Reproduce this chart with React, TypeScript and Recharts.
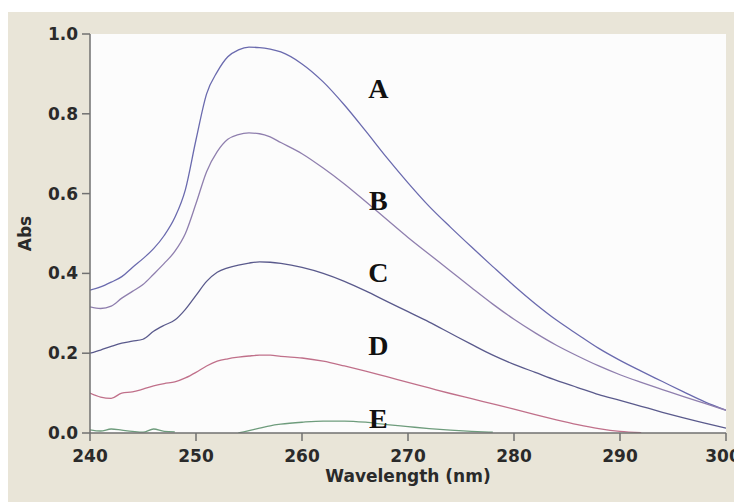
import React from 'react';
import { LineChart, Line, XAxis, YAxis, CartesianGrid, ReferenceDot } from 'recharts';

const wavelengths = [240, 241, 242, 243, 244, 245, 246, 247, 248, 249, 250, 251, 252, 253, 254, 255, 256, 257, 258,
  260, 262, 264, 266, 268, 270, 272, 274, 276, 278, 280, 282, 284, 286, 288, 290, 292, 294, 296, 298, 300];

const seriesA = [0.358, 0.366, 0.378, 0.392, 0.415, 0.437, 0.462, 0.495, 0.540, 0.610, 0.735, 0.850, 0.905, 0.943, 0.960, 0.967, 0.966, 0.962, 0.955,
  0.925, 0.880, 0.822, 0.757, 0.690, 0.627, 0.568, 0.516, 0.466, 0.417, 0.369, 0.324, 0.283, 0.247, 0.212, 0.182, 0.155, 0.129, 0.103, 0.078, 0.057];

const seriesB = [0.316, 0.312, 0.318, 0.338, 0.355, 0.372, 0.398, 0.425, 0.455, 0.500, 0.575, 0.655, 0.705, 0.736, 0.748, 0.752, 0.750, 0.742, 0.728,
  0.700, 0.664, 0.624, 0.580, 0.535, 0.490, 0.448, 0.406, 0.364, 0.323, 0.285, 0.251, 0.220, 0.193, 0.168, 0.146, 0.127, 0.109, 0.091, 0.074, 0.057];

const seriesC = [0.200, 0.208, 0.217, 0.225, 0.230, 0.235, 0.255, 0.270, 0.283, 0.310, 0.345, 0.380, 0.403, 0.414, 0.421, 0.426, 0.429, 0.428, 0.425,
  0.415, 0.400, 0.380, 0.356, 0.330, 0.304, 0.278, 0.250, 0.222, 0.195, 0.172, 0.152, 0.132, 0.114, 0.096, 0.082, 0.067, 0.052, 0.038, 0.025, 0.012];

const seriesD = [0.100, 0.090, 0.087, 0.100, 0.103, 0.110, 0.118, 0.124, 0.128, 0.138, 0.152, 0.168, 0.180, 0.186, 0.190, 0.193, 0.195, 0.195, 0.192,
  0.188, 0.180, 0.168, 0.155, 0.141, 0.127, 0.113, 0.099, 0.086, 0.073, 0.060, 0.046, 0.033, 0.021, 0.011, 0.004, 0.001, null, null, null, null];

const seriesE = [0.008, 0.005, 0.010, 0.007, 0.004, 0.002, 0.010, 0.004, 0.003, null, null, null, null, null, 0.000, 0.006, 0.012, 0.018, 0.022,
  0.027, 0.030, 0.030, 0.027, 0.021, 0.016, 0.011, 0.007, 0.004, 0.002, null, null, null, null, null, null, null, null, null, null, null];

const xTicks = [240, 250, 260, 270, 280, 290, 300];
const yTicks = [0, 0.2, 0.4, 0.6, 0.8, 1.0];

const curveLabels = [
  { name: 'A', x: 267.2, y: 0.865 },
  { name: 'B', x: 267.2, y: 0.584 },
  { name: 'C', x: 267.2, y: 0.404 },
  { name: 'D', x: 267.2, y: 0.221 },
  { name: 'E', x: 267.2, y: 0.038 },
];

const data = wavelengths.map((w, i) => ({
  w,
  A: seriesA[i],
  B: seriesB[i],
  C: seriesC[i],
  D: seriesD[i],
  E: seriesE[i],
}));

const colors = { A: '#6a6aae', B: '#8f7fae', C: '#5a5a8c', D: '#c0708a', E: '#6e9c7c' };

const tickStyle = { fill: '#2a2a2a', fontSize: 17, fontWeight: 'bold', fontFamily: 'DejaVu Sans' };
const axisColor = '#707070';

const XTick = (props: any) => {
  const { x, y, payload } = props;
  const shift = payload.value === 300 ? -3 : 0;
  return (
    <text x={x + shift} y={y} dy="0.71em" textAnchor="middle" fill="#2a2a2a" fontSize={17} fontWeight="bold" fontFamily="DejaVu Sans">
      {payload.value}
    </text>
  );
};

export default function App() {
  return (
    <div style={{ paddingTop: 4 }}>
      <LineChart
        width={734}
        height={490}
        data={data}
        margin={{ top: 22, right: 16, bottom: 0, left: 0 }}
        style={{ background: '#e9e5d8' }}
      >
        <CartesianGrid fill="#fcfcfc" stroke="none" />
        <XAxis
          dataKey="w"
          type="number"
          domain={[240, 300]}
          ticks={xTicks}
          height={69}
          tickSize={8}
          tickMargin={9}
          stroke={axisColor}
          strokeWidth={1.5}
          tick={<XTick />}
          allowDataOverflow
          label={{
            content: (props: any) => {
              const vb = props.viewBox;
              return (
                <text x={vb.x + vb.width / 2} y={vb.y + 49} textAnchor="middle" fill="#2a2a2a"
                  fontSize={17} fontWeight="bold" fontFamily="DejaVu Sans">Wavelength (nm)</text>
              );
            },
          }}
        />
        <YAxis
          type="number"
          domain={[0, 1]}
          ticks={yTicks}
          width={82}
          tickSize={8}
          tickMargin={4}
          stroke={axisColor}
          strokeWidth={1.5}
          tick={tickStyle}
          tickFormatter={(v: number) => v.toFixed(1)}
          allowDataOverflow
          label={{
            content: (props: any) => {
              const vb = props.viewBox;
              const cx = vb.x + 17;
              const cy = vb.y + vb.height / 2;
              return (
                <text x={cx} y={cy} transform={`rotate(-90 ${cx} ${cy})`} textAnchor="middle" dominantBaseline="central"
                  fill="#2a2a2a" fontSize={17} fontWeight="bold" fontFamily="DejaVu Sans">Abs</text>
              );
            },
          }}
        />
        <Line type="monotone" dataKey="A" stroke={colors.A} strokeWidth={1.3} dot={false} isAnimationActive={false} />
        <Line type="monotone" dataKey="B" stroke={colors.B} strokeWidth={1.3} dot={false} isAnimationActive={false} />
        <Line type="monotone" dataKey="C" stroke={colors.C} strokeWidth={1.3} dot={false} isAnimationActive={false} />
        <Line type="monotone" dataKey="D" stroke={colors.D} strokeWidth={1.3} dot={false} isAnimationActive={false} />
        <Line type="monotone" dataKey="E" stroke={colors.E} strokeWidth={1.3} dot={false} isAnimationActive={false} />
        {curveLabels.map((l) => (
          <ReferenceDot
            key={l.name}
            x={l.x}
            y={l.y}
            r={0}
            fill="none"
            stroke="none"
            label={{
              value: l.name,
              position: 'center',
              fill: '#111',
              fontSize: 28,
              fontWeight: 'bold',
              fontFamily: 'Liberation Serif',
            }}
          />
        ))}
      </LineChart>
    </div>
  );
}
